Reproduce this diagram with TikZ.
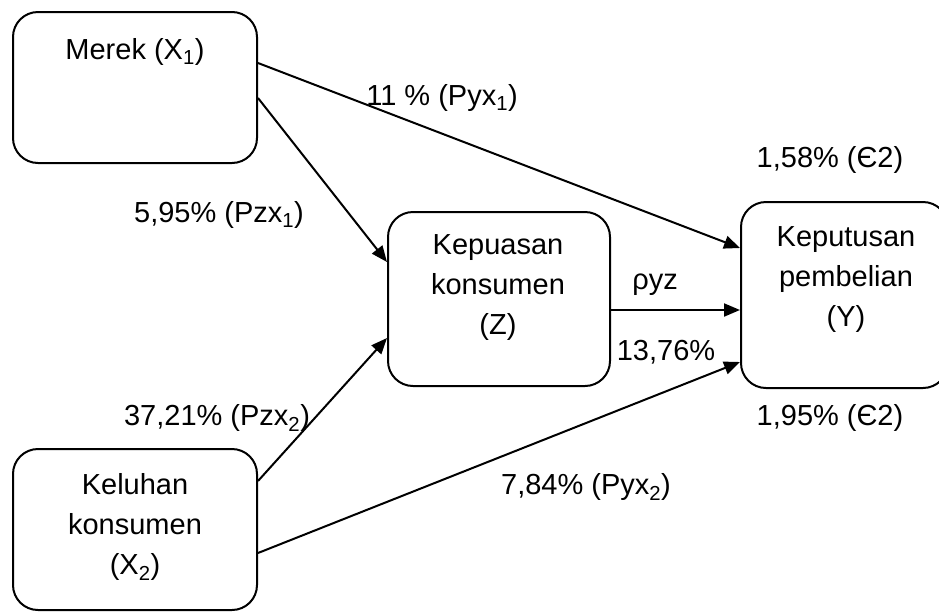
\documentclass[tikz,border=0pt]{standalone}
\usepackage{fontspec}
\setmainfont{Liberation Sans}
\usetikzlibrary{arrows.meta}
\begin{document}
\begin{tikzpicture}[x=1pt,y=-1pt,
  box/.style={draw, line width=2pt, rounded corners=25pt, inner sep=0pt},
  txt/.style={font=\fontsize{29}{40}\selectfont, inner sep=0pt, align=center},
  conn/.style={line width=2pt, -{Triangle[length=16pt,width=13pt]}}]
\useasboundingbox (0,0) rectangle (939,611);
\clip (0,0) rectangle (939,611);
% boxes
\node[box, minimum width=244pt, minimum height=151pt] (x1) at (135,87.5) {};
\node[box, minimum width=222pt, minimum height=174pt] (z) at (499,299) {};
\node[box, minimum width=207pt, minimum height=186pt] (y) at (844.5,295) {};
\node[box, minimum width=244pt, minimum height=161pt] (x2) at (135,529.5) {};
% box texts
\node[txt] (tx1) at (135,52) {Merek (X\textsubscript{1})};
\node[txt] (tz) at (498,288) {Kepuasan\\konsumen\\(Z)};
\node[txt] (ty) at (846,280) {Keputusan\\pembelian\\(Y)};
\node[txt] (tx2) at (135,527) {Keluhan\\konsumen\\(X\textsubscript{2})};
% connectors
\draw[conn] ([yshift=24.5pt]x1.east) -- ([yshift=47pt]y.west);
\draw[conn] ([yshift=-10.5pt]x1.east) -- ([yshift=37pt]z.west);
\draw[conn] ([yshift=-11pt]z.east) -- ([yshift=-15pt]y.west);
\draw[conn] ([yshift=48.5pt]x2.east) -- ([yshift=-39pt]z.west);
\draw[conn] ([yshift=-23.5pt]x2.east) -- ([yshift=-67pt]y.west);
% labels
\node[txt] (l1) at (442,98) {11 \% (Pyx\textsubscript{1})};
\node[txt] (l2) at (219,215) {5,95\% (Pzx\textsubscript{1})};
\node[txt] (l3) at (830,160) {1,58\% (Є2)};
\node[txt] (l4) at (655,285) {ρyz};
\node[txt] (l5) at (666,352) {13,76\%};
\node[txt] (l6) at (217,418) {37,21\% (Pzx\textsubscript{2})};
\node[txt] (l7) at (830,418) {1,95\% (Є2)};
\node[txt] (l8) at (586,487) {7,84\% (Pyx\textsubscript{2})};
\end{tikzpicture}
\end{document}
